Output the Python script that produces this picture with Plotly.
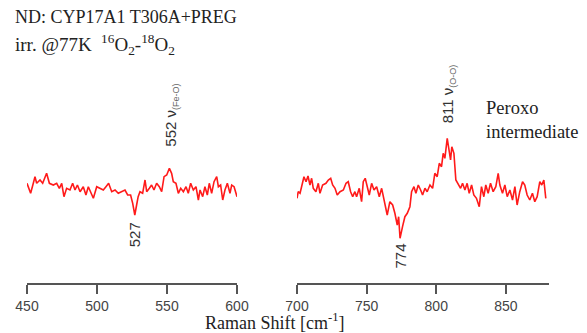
import plotly.graph_objects as go

# Spectrum 1 (450-600 cm-1)
wn1 = [450, 452.6, 454.5, 455.7, 456.9, 459.3, 461.2, 464.0, 466.0, 468.8, 471.2, 473.1, 474.8, 476.4,
       478.3, 480.7, 482.6, 484.3, 486.0, 487.9, 490.2, 492.1, 493.8, 495.5, 497.4, 499.8, 502.1, 504.5,
       506.4, 508.3, 510.5, 512.9, 515.2, 517.6, 520.0, 521.9, 524.0, 525.5, 527.0, 528.3, 529.4, 530.7,
       532.6, 534.3, 535.5, 537.4, 539.0, 540.7, 542.6, 544.5, 546.2, 547.9, 549.8, 551.7, 553.3, 554.5,
       556.4, 558.1, 559.8, 561.7, 563.6, 565.2, 566.9, 568.8, 570.7, 572.4, 573.6, 575.5, 577.1, 578.8,
       580.2, 581.9, 583.6, 585.5, 586.7, 588.3, 589.8, 591.4, 593.1, 595.0, 596.2, 597.9, 600]
int1 = [1.7, -8.3, 1.7, 8.3, 1.7, 5, 1.7, 11.7, 1.7, 0, 1.7, -3.3, 1.7, -11.7,
        -3.3, -5, 1.7, -5, 0, -6.7, -1.7, -10, -1.7, -6.7, -13.3, -1.7, -3.3, -5,
        -1.7, 1.7, -6.7, -5, -8.3, -6.7, -5, -10, -10, -18.3, -30, -20, -11.7, -6.7,
        -8.3, 5, -6.7, -3.3, 0, -5, 1.7, -1.7, -6.7, 8.3, 10, 16.7, 11.7, 3.3,
        1.7, -8.3, -3.3, -6.7, -1.7, -8.3, 1.7, -5, -1.7, -15, -5, -11.7, -1.7, -10,
        1.7, -8.3, 3.3, 8.3, -1.7, 0, -15, -5, 1.7, -8.3, 0, -1.7, -11.7]

# Spectrum 2 (700-880 cm-1)
wn2 = [700, 700.9, 702.2, 703.3, 705.0, 706.5, 707.9, 709.3, 710.5, 711.7, 713.6, 715.3, 716.5, 718.4,
       720.8, 722.5, 724.2, 725.6, 727.3, 728.9, 730.9, 733.3, 735.2, 736.8, 738.5, 740.0, 741.6, 742.8,
       744.7, 746.4, 747.6, 749.0, 750.5, 751.9, 753.6, 755.3, 757.2, 759.1, 760.8, 762.4, 763.9, 764.8,
       766.7, 768.7, 770.3, 772.0, 773.0, 774.0, 775.8, 777.5, 779.2, 781.1, 782.3, 784.0, 785.4, 787.1,
       788.8, 790.2, 791.9, 793.5, 795.5, 797.4, 799.0, 800.7, 802.2, 803.8, 805.0, 806.2, 807.9, 809.3,
       810.3, 811.2, 812.7, 814.1, 815.8, 817.5, 818.9, 820.6, 822.2, 823.7, 825.4, 827.0, 828.9, 830.9,
       832.5, 834.2, 835.6, 837.3, 839.0, 840.9, 842.8, 844.5, 845.7, 847.6, 849.3, 851.0, 852.9, 854.8,
       856.5, 858.1, 860.0, 862.0, 863.6, 865.3, 867.2, 869.1, 870.8, 872.5, 874.4, 875.8, 877.3, 878.7]
int2 = [-13.3, -6.7, -8.3, -1.7, 8.3, 3.3, 9, 0, 6.7, -3.3, -6.7, 1.7, -8.3, 0,
        1.7, 5, 6.7, 0, -3.3, -10, -6.7, -5, 1.7, 3.3, -6.7, -11.7, -6.7, -11.7,
        -3.3, -16.7, 3.3, 6.7, -1.7, -10, 1.7, -5, -1.7, -11.7, -3.3, -13.3, -21.7, -30,
        -16.7, -20, -28.3, -40, -31.7, -53.3, -41.7, -31.7, -28.3, -21.7, -6.7, -1.7, -8.3, 0,
        -5, -10, -3.3, -6.7, 0, -3.3, 11.7, 8.3, 21.7, 18.3, 31.7, 26.7, 46.7, 35,
        25, 38.3, 31.7, 5, 0, -3.3, 1.7, -5, 1.7, -8.3, 0, -10, -13.3, -21.7,
        -1.7, -11.7, 0, -8.3, 1.7, -6.7, -1.7, 11.7, 0, -8.3, 0, -11.7, -5, -15,
        -1.7, -20, -6.7, 3.3, 0, -10, -15, -8.3, -16.7, -11.7, 3.3, 0, 5, -13.3]

ticks1 = [450, 500, 550, 600]
ticks2 = [700, 750, 800, 850]

OFF = 8                      # page body margin in the browser
W, H = 587 - OFF, 333 - OFF
TOP, BOT = 60 - OFF, 283 - OFF   # plot area top / bottom (figure pixels)
RED = "#ff1a1a"
AX = "#555555"
SERIF = "Liberation Serif, Times New Roman, serif"
SANS = "Liberation Sans, Arial, sans-serif"


def px(p):
    """screen column -> paper x"""
    return (p - OFF) / W


def py(p):
    """screen row -> paper y"""
    return (BOT - (p - OFF)) / (BOT - TOP)


fig = go.Figure()
fig.add_trace(go.Scatter(x=wn1, y=int1, mode="lines", line=dict(color=RED, width=1.6),
                         xaxis="x", yaxis="y", showlegend=False))
fig.add_trace(go.Scatter(x=wn2, y=int2, mode="lines", line=dict(color=RED, width=1.6),
                         xaxis="x2", yaxis="y", showlegend=False))

axstyle = dict(showline=True, linecolor=AX, linewidth=2, ticks="outside", ticklen=9,
               tickwidth=2, tickcolor=AX, showgrid=False, zeroline=False,
               tickfont=dict(family=SANS, size=14, color="#444"))
fig.update_layout(
    width=W, height=H,
    margin=dict(l=0, r=0, t=TOP, b=H - BOT, pad=0, autoexpand=False),
    paper_bgcolor="white", plot_bgcolor="white",
    xaxis=dict(domain=[px(27), px(237)], range=[450, 600], tickvals=ticks1, anchor="y",
               automargin=False, **axstyle),
    xaxis2=dict(domain=[px(297), px(549)], range=[700, 881], tickvals=ticks2, anchor="y",
                automargin=False, **axstyle),
    yaxis=dict(range=[-98, 125], visible=False),
)

ann = []
ann.append(dict(x=px(13), xref="paper", y=py(17), yref="paper", xanchor="left", yanchor="middle",
                text="ND: CYP17A1 T306A+PREG", showarrow=False,
                font=dict(family=SERIF, size=18, color="#222")))
ann.append(dict(x=px(13), xref="paper", y=py(44), yref="paper", xanchor="left", yanchor="middle",
                text="irr. @77K  <sup>16</sup>O<sub>2</sub>-<sup>18</sup>O<sub>2</sub>", showarrow=False,
                font=dict(family=SERIF, size=19, color="#222")))
ann.append(dict(x=px(484), xref="paper", y=py(120), yref="paper", xanchor="left", yanchor="middle",
                text="Peroxo<br>intermediate", showarrow=False, align="left",
                font=dict(family=SERIF, size=18.5, color="#222")))
ann.append(dict(x=px(274), xref="paper", y=py(321), yref="paper", xanchor="center", yanchor="middle",
                text="Raman Shift [cm<sup>-1</sup>]", showarrow=False,
                font=dict(family=SERIF, size=18, color="#222")))
lab = dict(family=SANS, size=15, color="#333")
ann.append(dict(x=527, xref="x", y=-35, yref="y", yanchor="top", xanchor="center", textangle=-90,
                text="527", showarrow=False, font=lab))
ann.append(dict(x=774, xref="x2", y=-57, yref="y", yanchor="top", xanchor="center", textangle=-90,
                text="774", showarrow=False, font=lab))
ann.append(dict(x=553, xref="x", y=36, yref="y", yanchor="bottom", xanchor="center", textangle=-90,
                text="552 ν<sub><span style='font-size:9px;color:#666'>(Fe-O)</span></sub>",
                showarrow=False, font=lab))
ann.append(dict(x=809, xref="x2", y=60, yref="y", yanchor="bottom", xanchor="center", textangle=-90,
                text="811 ν<sub><span style='font-size:9px;color:#666'>(O-O)</span></sub>",
                showarrow=False, font=lab))
fig.update_layout(annotations=ann)

fig.write_html("out.html")
